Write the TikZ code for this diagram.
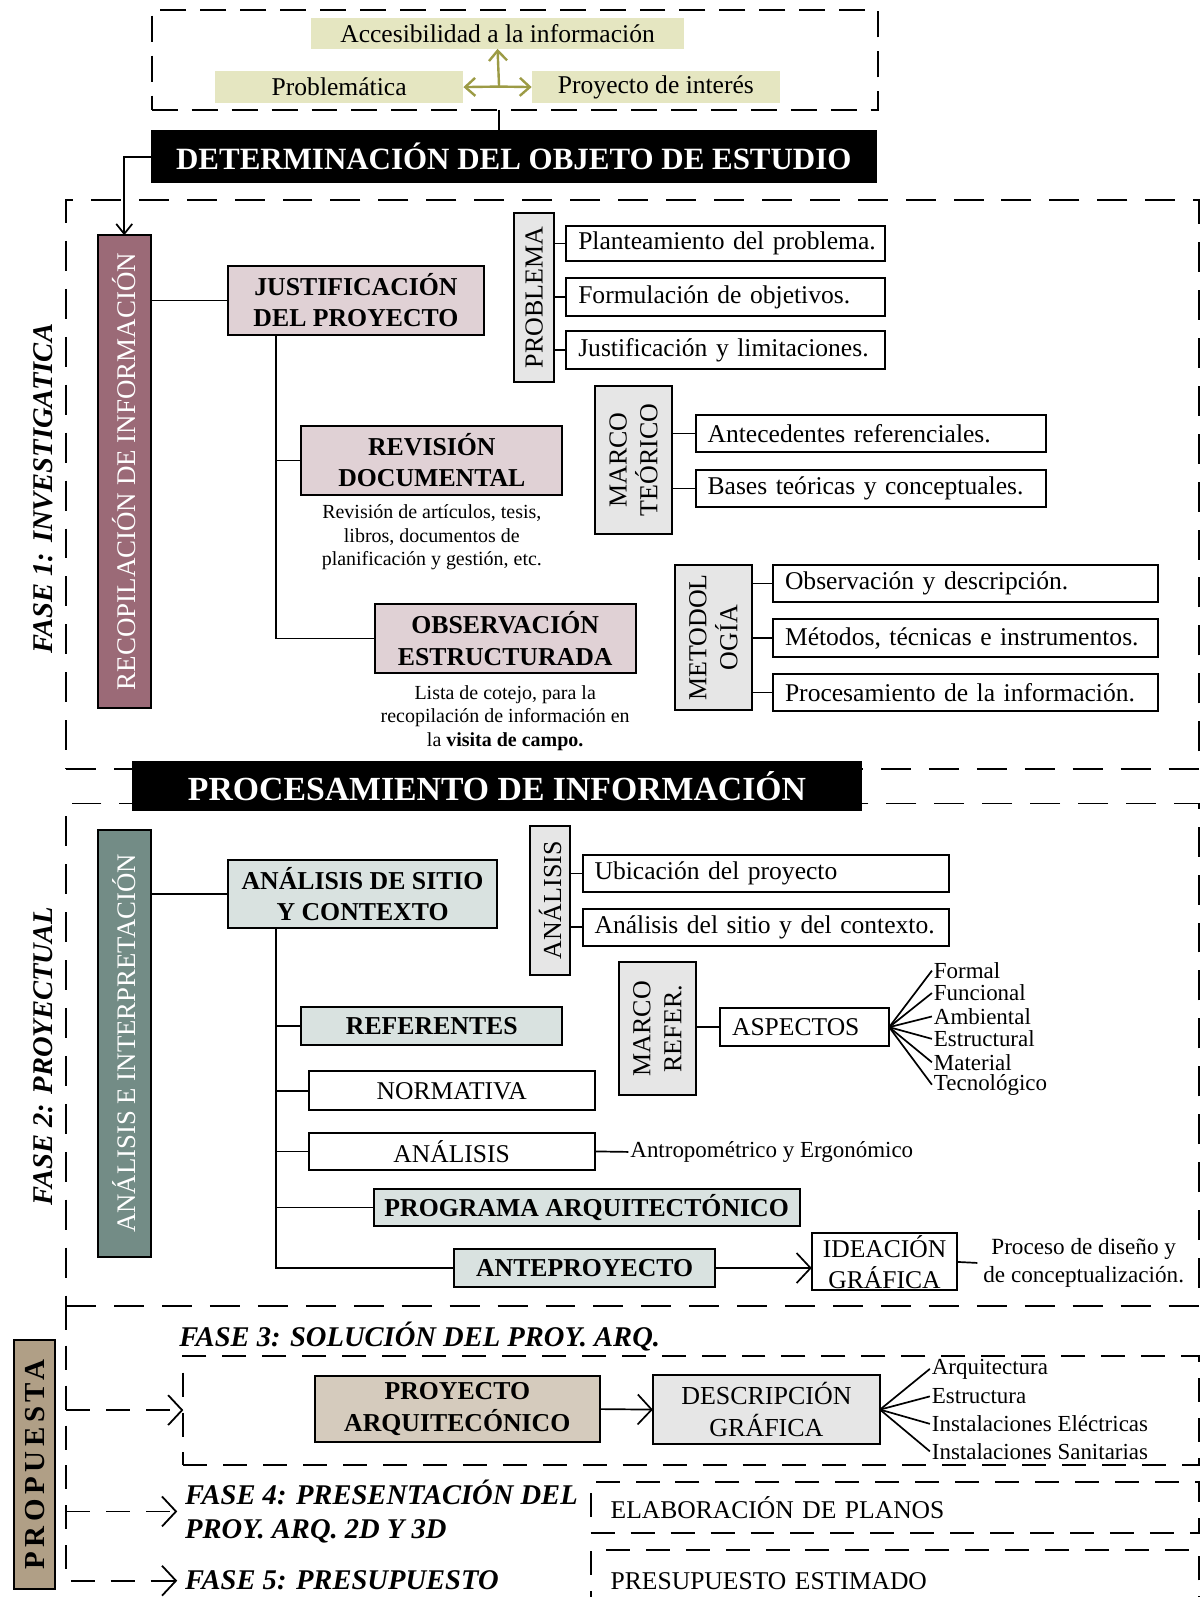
\documentclass[tikz,border=0pt]{standalone}
\usepackage{fontspec}
\setmainfont{Liberation Serif}
\usetikzlibrary{arrows.meta}
\definecolor{ccream}{HTML}{E5E6C1}
\definecolor{colive}{HTML}{9C9B45}
\definecolor{cmauve}{HTML}{9B6A77}
\definecolor{cpink}{HTML}{E0D1D5}
\definecolor{cgray}{HTML}{E6E6E6}
\definecolor{cgreen}{HTML}{738C86}
\definecolor{csage}{HTML}{D9E2E0}
\definecolor{cbeige}{HTML}{D5CBBD}
\definecolor{ctan}{HTML}{B09F86}
\newcommand\fs[2]{\fontsize{#1}{#2}\selectfont}
% box from (x1,y1) to (x2,y2)
\newcommand\mybx[7]{\node[#6, minimum width={(#4-#2)*0.51pt}, minimum height={(#5-#3)*0.51pt}] (#1) at ({(#2+#4)/2},{(#3+#5)/2}) {#7};}
\newcommand\myvbx[7]{\node[#6, rotate=90, minimum width={(#5-#3)*0.51pt}, minimum height={(#4-#2)*0.51pt}] (#1) at ({(#2+#4)/2},{(#3+#5)/2}) {#7};}
\newcommand\mylbx[7]{\pgfmathsetmacro\mytw{(#4-#2)*0.51-12}\node[#6, text width=\mytw pt, align=left, inner xsep=6pt, minimum height={(#5-#3)*0.51pt}] (#1) at ({(#2+#4)/2},{(#3+#5)/2}) {\mbox{#7}};}
\begin{document}
\begin{tikzpicture}[x=0.51pt,y=-0.51pt,
  every node/.style={inner sep=0pt, outer sep=0pt},
  ln/.style={line width=0.85pt},
  bxs/.style={draw, line width=1pt},
  wbox/.style={bxs, fill=white, font=\fs{12.8}{15.5}, align=center},
  grayb/.style={bxs, fill=cgray, font=\fs{13}{15.5}, align=center},
  pinkb/.style={bxs, fill=cpink, font=\fs{12.9}{15.6}\bfseries, align=center},
  sageb/.style={bxs, fill=csage, font=\fs{12.9}{15.6}\bfseries, align=center},
  beigeb/.style={bxs, fill=cbeige, font=\fs{12.9}{15.6}\bfseries, align=center},
  cream/.style={fill=ccream, font=\fs{12.8}{15}},
  blk/.style={fill=black, text=white, font=\bfseries},
  dshbox/.style={draw, line width=0.9pt, dash pattern=on 15pt off 9pt},
  dshtop/.style={draw, line width=0.9pt, dash pattern=on 13pt off 7pt},
  dsh2/.style={line width=0.9pt, dash pattern=on 12pt off 8pt},
  dshbox2/.style={draw, dsh2},
  fase/.style={font=\fs{14.3}{16.8}\bfseries\itshape},
  captxt/.style={font=\fs{10}{11.8}, align=center},
  fantxt/.style={font=\fs{11.5}{11.5}, inner xsep=1pt},
  arrS/.style={-{Straight Barb[length=5pt,width=8pt]}},
  arrL/.style={-{Straight Barb[length=7pt,width=15pt]}},
  olv/.style={draw=colive, line width=1.2pt, -{Straight Barb[length=5pt,width=9pt]}}
]
\useasboundingbox[fill=white] (0,0) rectangle (1178,1568);

% ---------- top ----------
\mybx{topbox}{149}{10}{862}{108}{dshtop}{}
\mybx{acc}{305}{18}{672}{48}{cream}{Accesibilidad a la información}
\mybx{prob}{211}{70}{455}{101}{cream}{Problemática}
\mybx{pint}{522}{70}{766}{101}{cream}{Proyecto de interés}
\coordinate (c0) at (490,85);
\draw[olv] (c0) -- (acc.south);
\draw[olv] (c0) -- (prob.east);
\draw[olv] (c0) -- (pint.west);
\mybx{det}{148}{128}{861}{180}{blk, font=\fs{15.5}{18}\bfseries}{DETERMINACIÓN DEL OBJETO DE ESTUDIO}
\draw[ln] (c0 |- topbox.south) -- (c0 |- det.north);

% ---------- phase frames ----------
\mybx{ph1}{65}{196}{1177}{755}{dshbox}{}
\mybx{ph2}{65}{789}{1177}{1282}{dshbox}{}
\mybx{proc}{130}{747}{846}{796}{blk, font=\fs{16.9}{19}\bfseries}{PROCESAMIENTO DE INFORMACIÓN}

\node[fase, rotate=90] (f1) at (42,480) {FASE 1: INVESTIGATICA};
\node[fase, rotate=90] (f2) at (42,1037) {FASE 2: PROYECTUAL};

% ---------- phase 1 ----------
\myvbx{rec}{96}{231}{148}{695}{bxs, fill=cmauve, text=white, font=\fs{13.5}{16}}{RECOPILACIÓN DE INFORMACIÓN}
\draw[ln, arrS] (det.west) -| (rec.east);
\mybx{jus}{224}{261}{475}{329}{pinkb}{JUSTIFICACIÓN\\DEL PROYECTO}
\draw[ln] (rec.south |- jus.west) -- (jus.west);
\mybx{rev}{296}{418}{552}{486}{pinkb}{REVISIÓN\\DOCUMENTAL}
\mybx{obs}{368}{593}{624}{661}{pinkb}{OBSERVACIÓN\\ESTRUCTURADA}
\coordinate (tr1) at (271,329);
\draw[ln] (tr1) |- (obs.west);
\draw[ln] (tr1 |- rev.west) -- (rev.west);
\node[captxt, anchor=north] (revc) at ([yshift=-5pt]rev.south) {Revisión de artículos, tesis,\\libros, documentos de\\planificación y gestión, etc.};
\node[captxt, anchor=north] (obsc) at ([yshift=-6pt]obs.south) {Lista de cotejo, para la\\recopilación de información en\\la \textbf{visita de campo.}};

\myvbx{pbm}{505}{209}{544}{375}{grayb}{PROBLEMA}
\mylbx{p1}{556}{222}{869}{256}{wbox}{Planteamiento del problema.}
\mylbx{p2}{556}{273}{869}{310}{wbox}{Formulación de objetivos.}
\mylbx{p3}{556}{325}{869}{362}{wbox}{Justificación y limitaciones.}
\foreach \i in {1,2,3} \draw[ln] (pbm.south |- p\i.west) -- (p\i.west);

\myvbx{mt}{584}{379}{660}{524}{grayb}{MARCO\\TEÓRICO}
\mylbx{m1}{683}{407}{1027}{444}{wbox}{Antecedentes referenciales.}
\mylbx{m2}{683}{461}{1027}{498}{wbox}{Bases teóricas y conceptuales.}
\foreach \i in {1,2} \draw[ln] (mt.south |- m\i.west) -- (m\i.west);

\myvbx{met}{663}{555}{738}{697}{grayb}{METODOL\\OGÍA}
\mylbx{o1}{759}{555}{1137}{591}{wbox}{Observación y descripción.}
\mylbx{o2}{759}{608}{1137}{645}{wbox}{Métodos, técnicas e instrumentos.}
\mylbx{o3}{759}{662}{1137}{698}{wbox}{Procesamiento de la información.}
\foreach \i in {1,2,3} \draw[ln] (met.south |- o\i.west) -- (o\i.west);

% ---------- phase 2 ----------
\myvbx{ana}{96}{815}{148}{1234}{bxs, fill=cgreen, text=white, font=\fs{13.4}{16}}{ANÁLISIS E INTERPRETACIÓN}
\mybx{sit}{224}{844}{488}{911}{sageb}{ANÁLISIS DE SITIO\\Y CONTEXTO}
\draw[ln] (ana.south |- sit.west) -- (sit.west);
\coordinate (tr2) at (271,911);
\mybx{ref}{296}{989}{552}{1026}{sageb}{REFERENTES}
\mybx{nor}{303}{1052}{584}{1090}{wbox}{NORMATIVA}
\mybx{anl}{303}{1112}{584}{1149}{wbox}{ANÁLISIS}
\mybx{prg}{367}{1167}{785}{1204}{sageb}{PROGRAMA ARQUITECTÓNICO}
\mybx{ant}{446}{1226}{702}{1264}{sageb}{ANTEPROYECTO}
\draw[ln] (tr2) |- (ant.west);
\foreach \n in {ref,nor,anl,prg} \draw[ln] (tr2 |- \n.west) -- (\n.west);

\myvbx{an2}{520}{811}{560}{957}{grayb}{ANÁLISIS}
\mylbx{u1}{572}{839}{932}{876}{wbox}{Ubicación del proyecto}
\mylbx{u2}{572}{892}{932}{929}{wbox}{Análisis del sitio y del contexto.}
\foreach \i in {1,2} \draw[ln] (an2.south |- u\i.west) -- (u\i.west);

\myvbx{mr}{608}{945}{683}{1075}{grayb}{MARCO\\REFER.}
\mylbx{asp}{707}{990}{873}{1027}{wbox}{ASPECTOS}
\draw[ln] (mr.south |- asp.west) -- (asp.west);
\node[fantxt, anchor=west] (a1) at (915,953) {Formal};
\node[fantxt, anchor=west] (a2) at (915,975) {Funcional};
\node[fantxt, anchor=west] (a3) at (915,998) {Ambiental};
\node[fantxt, anchor=west] (a4) at (915,1020) {Estructural};
\node[fantxt, anchor=west] (a5) at (915,1043) {Material};
\node[fantxt, anchor=west] (a6) at (915,1065) {Tecnológico};
\foreach \i in {1,...,6} \draw[ln] (asp.east) -- (a\i.west);

\node[fantxt, anchor=west] (antr) at (617,1131) {Antropométrico y Ergonómico};
\draw[ln] (anl.east) -- (antr.west);

\mybx{ide}{797}{1211}{940}{1267}{wbox}{IDEACIÓN\\GRÁFICA}
\draw[ln, arrL] (ant.east) -- (ant.east -| ide.west);
\node[font=\fs{11.6}{13.8}, align=center, inner xsep=3pt] (pdc) at (1064,1240) {Proceso de diseño y\\de conceptualización.};
\draw[ln] (ide.east) -- (pdc.west);

% ---------- propuesta ----------
\node[fase, anchor=west] (f3) at (176,1312) {FASE 3: SOLUCIÓN DEL PROY. ARQ.};
\mybx{ph3}{180}{1331}{1177}{1438}{dshbox2}{}
\mybx{pa}{309}{1351}{589}{1416}{beigeb}{PROYECTO\\ARQUITECÓNICO}
\mybx{dg}{641}{1350}{864}{1418}{bxs, fill=cgray, font=\fs{13}{15.8}, align=center}{DESCRIPCIÓN\\GRÁFICA}
\draw[ln, arrL] (pa.east) -- (dg.west);
\node[fantxt, anchor=west] (d1) at (913,1344) {Arquitectura};
\node[fantxt, anchor=west] (d2) at (913,1371) {Estructura};
\node[fantxt, anchor=west] (d3) at (913,1398) {Instalaciones Eléctricas};
\node[fantxt, anchor=west] (d4) at (913,1425) {Instalaciones Sanitarias};
\foreach \i in {1,...,4} \draw[ln] (dg.east) -- (d\i.west);

\myvbx{prop}{14}{1316}{54}{1560}{bxs, fill=ctan, font=\fs{14.5}{16}\bfseries\addfontfeature{LetterSpace=16}}{PROPUESTA}

\node[fase, anchor=west, align=left, inner xsep=4pt] (f4) at (174,1484) {FASE 4: PRESENTACIÓN DEL\\PROY. ARQ. 2D Y 3D};
\node[fase, anchor=west, inner xsep=4pt] (f5) at (174,1552) {FASE 5: PRESUPUESTO};
\mylbx{el}{580}{1455}{1177}{1505}{dshbox2, font=\fs{12.8}{15}}{\hspace*{4pt}ELABORACIÓN DE PLANOS}
\mylbx{pe}{580}{1522}{1177}{1582}{dshbox2, font=\fs{12.8}{15}}{\hspace*{4pt}PRESUPUESTO ESTIMADO}

\draw[dsh2, arrL] (ph2.south west) |- (f5.west);
\draw[dsh2, arrL] (ph2.south west |- ph3.west) -- (ph3.west);
\draw[dsh2, arrL] (ph2.south west |- f4.west) -- (f4.west);
\end{tikzpicture}
\end{document}
